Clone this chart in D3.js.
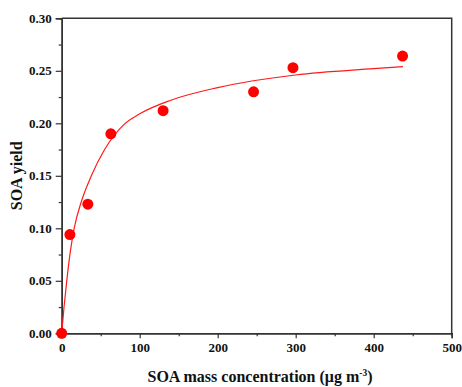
<!DOCTYPE html>
<html>
<head>
<meta charset="utf-8">
<script src="https://cdn.jsdelivr.net/npm/d3@7"></script>
<style>
  body { margin: 0; background: #fff; }
  svg { display: block; font-family: "Liberation Serif", "Times New Roman", serif; font-weight: bold; }
</style>
</head>
<body>
<script>
// measured points
let concData = [0, 10.5, 33.5, 63, 130, 246, 296.5, 437];
let yieldData = [0, 0.094, 0.123, 0.190, 0.212, 0.230, 0.253, 0.264];

// fitted curve
let fitConc = [0, 3, 6.5, 10.5, 16, 25, 38, 55, 80, 100, 140, 200, 300, 400, 437.5];
let fitYield = [0, 0.025, 0.05, 0.075, 0.1, 0.125, 0.15, 0.175, 0.199, 0.209, 0.222, 0.234, 0.246, 0.252, 0.254];

let xTicks = [0, 100, 200, 300, 400, 500];
let yTicks = [0, 0.05, 0.10, 0.15, 0.20, 0.25, 0.30];

let width = 462, height = 387;
let margin = { top: 18.3, right: 10.3, bottom: 53.7, left: 61.7 };

let svg = d3.select('body').append('svg')
    .attr('width', width)
    .attr('height', height);

let xScale = d3.scaleLinear().domain([0, 500]).range([margin.left, width - margin.right]);
let yScale = d3.scaleLinear().domain([0, 0.30]).range([height - margin.bottom, margin.top]);

let axisColor = '#333';

// x axis (major + minor)
let xMinor = d3.axisBottom(xScale).tickValues(d3.range(50, 500, 100)).tickSize(3).tickFormat('');
let xAxis = d3.axisBottom(xScale).tickValues(xTicks).tickSize(5).tickPadding(4).tickFormat(d3.format('d'));
svg.append('g').attr('transform', `translate(0, ${yScale(0)})`).call(xMinor);
svg.append('g').attr('transform', `translate(0, ${yScale(0)})`).call(xAxis);

// y axis
let yMinor = d3.axisLeft(yScale).tickValues(d3.range(0.025, 0.3, 0.05)).tickSize(3).tickFormat('');
let yAxis = d3.axisLeft(yScale).tickValues(yTicks).tickSize(6).tickPadding(4).tickFormat(d3.format('.2f'));
svg.append('g').attr('transform', `translate(${xScale(0)}, 0)`).call(yMinor);
svg.append('g').attr('transform', `translate(${xScale(0)}, 0)`).call(yAxis);

svg.selectAll('.domain').attr('stroke', axisColor).attr('stroke-width', 1.5);
svg.selectAll('.tick line').attr('stroke', axisColor).attr('stroke-width', 1.2);
svg.selectAll('.tick text')
    .attr('fill', '#111')
    .style('font-size', '13px')
    .style('font-family', '"Liberation Serif", serif')
    .style('font-weight', 'bold');

// top + right frame
svg.append('path')
    .attr('d', `M${xScale(0)},${yScale(0.3)}H${xScale(500)}V${yScale(0)}`)
    .attr('fill', 'none')
    .attr('stroke', axisColor)
    .attr('stroke-width', 1.5);

// fit line
let fitPoints = fitConc.map((c, i) => [c, fitYield[i]]);
let line = d3.line()
    .x(d => xScale(d[0]))
    .y(d => yScale(d[1]))
    .curve(d3.curveMonotoneX);
svg.append('path')
    .datum(fitPoints)
    .attr('d', line)
    .attr('fill', 'none')
    .attr('stroke', '#ff1a1a')
    .attr('stroke-width', 1.2);

// data points
svg.selectAll('circle.pt')
    .data(concData.map((c, i) => [c, yieldData[i]]))
    .enter()
    .append('circle')
    .attr('class', 'pt')
    .attr('cx', d => xScale(d[0]))
    .attr('cy', d => yScale(d[1]))
    .attr('r', 5.5)
    .attr('fill', '#ff0000');

// axis titles
let xTitle = svg.append('text')
    .attr('x', 260)
    .attr('y', 382)
    .attr('text-anchor', 'middle')
    .attr('fill', '#111')
    .style('font-size', '16px');
xTitle.append('tspan').text('SOA mass concentration (\u03bcg m');
xTitle.append('tspan').attr('dy', -6).style('font-size', '9.5px').text('-3');
xTitle.append('tspan').attr('dy', 6).text(')');

svg.append('text')
    .attr('transform', `translate(22, ${(yScale(0) + yScale(0.3)) / 2}) rotate(-90)`)
    .attr('text-anchor', 'middle')
    .attr('fill', '#111')
    .style('font-size', '16px')
    .text('SOA yield');
</script>
</body>
</html>
